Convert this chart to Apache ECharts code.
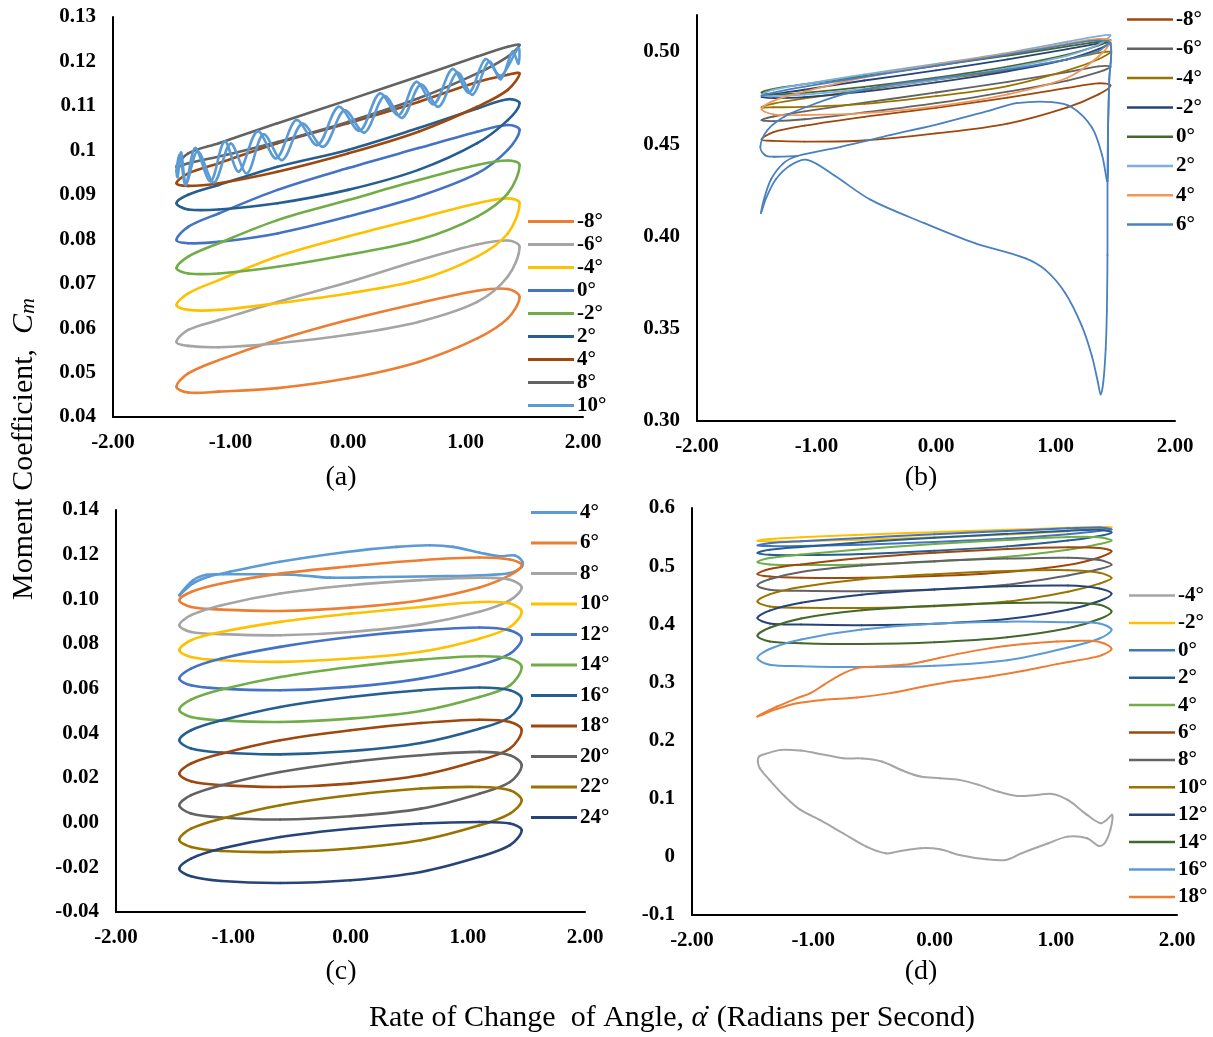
<!DOCTYPE html>
<html>
<head>
<meta charset="utf-8">
<script src="https://cdn.jsdelivr.net/npm/echarts@6.0.0/dist/echarts.min.js"></script>
<style>
html, body { margin: 0; padding: 0; background: #fff; }
#chart { width: 1213px; height: 1037px; }
</style>
</head>
<body>
<div id="chart"></div>
<script>
const XK = [-1.46, -1.36, -1.1, -0.6, 0, 0.6, 1.1, 1.36, 1.46];
const xTickLabels = ['-2.00', '-1.00', '0.00', '1.00', '2.00'];

// ---- (a) ----
const namesA = ['-8°', '-6°', '-4°', '0°', '-2°', '2°', '4°', '8°', '10°'];
// upper branch: left tip, values at XK[1..7], right tip
const upperA = [
	[0.0468, 0.0498, 0.0528, 0.0573, 0.0618, 0.0656, 0.0684, 0.0688, 0.0670],
	[0.0569, 0.0596, 0.0618, 0.0659, 0.0703, 0.0752, 0.0788, 0.0797, 0.0783],
	[0.0652, 0.0678, 0.0708, 0.0761, 0.0806, 0.0847, 0.0881, 0.0892, 0.0881],
	[0.0798, 0.0828, 0.0858, 0.0911, 0.0960, 0.1005, 0.1042, 0.1057, 0.1046],
	[0.0735, 0.0761, 0.0791, 0.0843, 0.0888, 0.0933, 0.0967, 0.0977, 0.0967],
	[0.0881, 0.0900, 0.0922, 0.0963, 0.1001, 0.1050, 0.1094, 0.1115, 0.1106],
	[0.0926, 0.0948, 0.0971, 0.1016, 0.1061, 0.1109, 0.1154, 0.1170, 0.1173],
	[0.0963, 0.0993, 0.1016, 0.1061, 0.1113, 0.1166, 0.1211, 0.1233, 0.1237]
];
// lower branch: values at XK[1..7]
const lowerA = [
	[0.0455, 0.0457, 0.0465, 0.0487, 0.0524, 0.0577, 0.0622],
	[0.0560, 0.0557, 0.0566, 0.0585, 0.0614, 0.0659, 0.0716],
	[0.0641, 0.0641, 0.0656, 0.0678, 0.0708, 0.0761, 0.0813],
	[0.0791, 0.0794, 0.0813, 0.0851, 0.0896, 0.0948, 0.1001],
	[0.0723, 0.0723, 0.0738, 0.0765, 0.0798, 0.0851, 0.0903],
	[0.0867, 0.0867, 0.0881, 0.0911, 0.0956, 0.1016, 0.1068],
	[0.0920, 0.0926, 0.0952, 0.0993, 0.1042, 0.1098, 0.1136],
	[0.0971, 0.0986, 0.1019, 0.1064, 0.1117, 0.1173, 0.1211]
];
// 10°: wavy trace out to the right and back, the two passes nearly in phase
const wave10A = [
	[-1.45, 0.0940], [-1.42, 0.0995], [-1.38, 0.0925], [-1.30, 0.1005], [-1.17, 0.0930],
	[-1.05, 0.1020], [-0.93, 0.0952], [-0.77, 0.1043], [-0.61, 0.0982], [-0.44, 0.1068],
	[-0.26, 0.1012], [-0.08, 0.1098], [0.10, 0.1044], [0.27, 0.1128], [0.43, 0.1079],
	[0.58, 0.1154], [0.73, 0.1104], [0.89, 0.1183], [1.03, 0.1130], [1.17, 0.1205],
	[1.30, 0.1168], [1.45, 0.1230],
	[1.45, 0.1195], [1.40, 0.1222], [1.30, 0.1160], [1.20, 0.1200], [1.06, 0.1125],
	[0.93, 0.1175], [0.77, 0.1098], [0.62, 0.1148], [0.46, 0.1073], [0.31, 0.1122],
	[0.14, 0.1040], [-0.03, 0.1090], [-0.21, 0.1008], [-0.39, 0.1060], [-0.56, 0.0978],
	[-0.72, 0.1036], [-0.86, 0.0948], [-1.00, 0.1015], [-1.14, 0.0928], [-1.28, 0.0998],
	[-1.38, 0.0922], [-1.43, 0.0990], [-1.46, 0.0955], [-1.45, 0.0940]
];
const yTicksA = ['0.04', '0.05', '0.06', '0.07', '0.08', '0.09', '0.1', '0.11', '0.12', '0.13'];

// ---- (b) ----
const namesB = ['-8°', '-6°', '-4°', '-2°', '0°', '2°', '4°', '6°'];
const upperB = [
	[0.4525, 0.4565, 0.4600, 0.4648, 0.4697, 0.4752, 0.4805, 0.4830, 0.4818],
	[0.4630, 0.4650, 0.4678, 0.4725, 0.4780, 0.4838, 0.4890, 0.4922, 0.4920],
	[0.4700, 0.4720, 0.4748, 0.4793, 0.4848, 0.4900, 0.4960, 0.4995, 0.5000],
	[0.4755, 0.4770, 0.4795, 0.4845, 0.4900, 0.4960, 0.5015, 0.5045, 0.5050],
	[0.4780, 0.4800, 0.4825, 0.4870, 0.4925, 0.4980, 0.5030, 0.5055, 0.5065],
	[0.4765, 0.4795, 0.4825, 0.4878, 0.4935, 0.4995, 0.5055, 0.5085, 0.5090],
	[0.4690, 0.4735, 0.4785, 0.4862, 0.4930, 0.4990, 0.5045, 0.5070, 0.5060]
];
const lowerB = [
	[0.4518, 0.4514, 0.4520, 0.4558, 0.4612, 0.4700, 0.4770],
	[0.4625, 0.4635, 0.4672, 0.4722, 0.4785, 0.4845, 0.4890],
	[0.4700, 0.4702, 0.4718, 0.4760, 0.4815, 0.4900, 0.4960],
	[0.4750, 0.4755, 0.4785, 0.4835, 0.4895, 0.4960, 0.5015],
	[0.4770, 0.4778, 0.4810, 0.4860, 0.4920, 0.4985, 0.5035],
	[0.4760, 0.4768, 0.4800, 0.4850, 0.4912, 0.4980, 0.5040],
	[0.4662, 0.4658, 0.4668, 0.4705, 0.4770, 0.4860, 0.4975]
];
const curve6B = [
	[-1.46, 0.4762], [-1.36, 0.4780], [-1.1, 0.4812], [-0.6, 0.4865], [0, 0.4925],
	[0.6, 0.4985], [1.1, 0.5040], [1.36, 0.5062], [1.46, 0.5045],
	[1.45, 0.4850], [1.44, 0.4600], [1.435, 0.4300], [1.435, 0.3900], [1.430, 0.3600],
	[1.420, 0.3390], [1.400, 0.3210], [1.378, 0.3144], [1.355, 0.3210], [1.305, 0.3351],
	[1.221, 0.3514], [1.081, 0.3694], [0.913, 0.3820], [0.744, 0.3883], [0.324, 0.3964],
	[-0.097, 0.4072], [-0.545, 0.4198], [-0.85, 0.4330], [-1.077, 0.4415],
	[-1.22, 0.4385], [-1.34, 0.4310], [-1.42, 0.4210], [-1.464, 0.4127], [-1.44, 0.4200],
	[-1.38, 0.4310], [-1.28, 0.4395], [-1.16, 0.4436],
	[-0.797, 0.4486], [-0.377, 0.4550], [0.044, 0.4613], [0.464, 0.4685], [0.675, 0.4722],
	[0.969, 0.4728], [1.137, 0.4700], [1.305, 0.4590], [1.39, 0.4440], [1.435, 0.4300],
	[1.44, 0.4600], [1.45, 0.4850], [1.46, 0.5045],
	[1.36, 0.5005], [1.1, 0.4960], [0.6, 0.4905], [0, 0.4855], [-0.35, 0.4825], [-0.60, 0.4795],
	[-0.80, 0.4766], [-1.08, 0.4703], [-1.27, 0.4649], [-1.41, 0.4577], [-1.47, 0.4486],
	[-1.43, 0.4440], [-1.358, 0.4432], [-1.16, 0.4436]
];
const yTicksB = ['0.30', '0.35', '0.40', '0.45', '0.50'];

// ---- (c) ----
const namesC = ['4°', '6°', '8°', '10°', '12°', '14°', '16°', '18°', '20°', '22°', '24°'];
const curve4C = [
	[-1.46, 0.1018], [-1.343, 0.1071], [-1.201, 0.1103], [-1.030, 0.1123], [-0.603, 0.1168],
	[-0.035, 0.1212], [0.392, 0.1235], [0.677, 0.1242], [0.875, 0.1235], [1.103, 0.1209],
	[1.274, 0.1193], [1.402, 0.1196], [1.467, 0.1168], [1.46, 0.1145],
	[1.359, 0.1118], [1.103, 0.1108], [0.818, 0.1104], [0.250, 0.1100], [-0.177, 0.1097],
	[-0.433, 0.1108], [-0.746, 0.1112], [-1.087, 0.1112], [-1.229, 0.1110], [-1.343, 0.1085],
	[-1.46, 0.1018]
];
const upperC = [
	[0.0996, 0.1033, 0.1071, 0.1115, 0.1148, 0.1175, 0.1187, 0.1178, 0.1153],
	[0.0884, 0.0929, 0.0974, 0.1026, 0.1063, 0.1086, 0.1097, 0.1088, 0.1053],
	[0.0772, 0.0817, 0.0854, 0.0899, 0.0936, 0.0966, 0.0988, 0.0981, 0.0944],
	[0.0645, 0.0690, 0.0735, 0.0787, 0.0831, 0.0861, 0.0874, 0.0861, 0.0824],
	[0.0506, 0.0551, 0.0596, 0.0652, 0.0697, 0.0730, 0.0745, 0.0735, 0.0697],
	[0.0369, 0.0414, 0.0458, 0.0518, 0.0563, 0.0593, 0.0605, 0.0593, 0.0555],
	[0.0220, 0.0265, 0.0309, 0.0369, 0.0414, 0.0446, 0.0461, 0.0451, 0.0414],
	[0.0078, 0.0123, 0.0168, 0.0227, 0.0272, 0.0302, 0.0317, 0.0302, 0.0257],
	[-0.0076, -0.0027, 0.0018, 0.0078, 0.0123, 0.0153, 0.0160, 0.0145, 0.0100],
	[-0.0206, -0.0161, -0.0116, -0.0064, -0.0027, -0.0004, 0.0003, -0.0004, -0.0034]
];
const lowerC = [
	[0.0966, 0.0954, 0.0948, 0.0963, 0.0996, 0.1053, 0.1108],
	[0.0854, 0.0844, 0.0839, 0.0854, 0.0888, 0.0944, 0.0996],
	[0.0742, 0.0727, 0.0720, 0.0735, 0.0765, 0.0824, 0.0876],
	[0.0615, 0.0600, 0.0593, 0.0608, 0.0645, 0.0705, 0.0757],
	[0.0473, 0.0458, 0.0451, 0.0466, 0.0500, 0.0563, 0.0615],
	[0.0332, 0.0314, 0.0306, 0.0321, 0.0357, 0.0421, 0.0473],
	[0.0185, 0.0168, 0.0160, 0.0175, 0.0212, 0.0279, 0.0332],
	[0.0041, 0.0023, 0.0014, 0.0029, 0.0063, 0.0130, 0.0182],
	[-0.0109, -0.0127, -0.0131, -0.0116, -0.0079, -0.0012, 0.0041],
	[-0.0240, -0.0261, -0.0270, -0.0258, -0.0221, -0.0153, -0.0101]
];
const yTicksC = ['-0.04', '-0.02', '0.00', '0.02', '0.04', '0.06', '0.08', '0.10', '0.12', '0.14'];

// ---- (d) ----
const namesD = ['-4°', '-2°', '0°', '2°', '4°', '6°', '8°', '10°', '12°', '14°', '16°', '18°'];
const curveNeg4D = [
	[-1.447, 0.1725], [-1.393, 0.1771], [-1.265, 0.1840], [-1.105, 0.1828], [-0.978, 0.1783],
	[-0.754, 0.1697], [-0.594, 0.1691], [-0.435, 0.1639], [-0.243, 0.1467], [-0.115, 0.1381],
	[0.045, 0.1352], [0.204, 0.1324], [0.364, 0.1238], [0.524, 0.1123], [0.684, 0.1048],
	[0.843, 0.1065], [0.971, 0.1083], [1.099, 0.0979], [1.259, 0.0721], [1.371, 0.0578],
	[1.419, 0.0635], [1.466, 0.0721], [1.450, 0.0463], [1.403, 0.0234], [1.355, 0.0188],
	[1.259, 0.0320], [1.099, 0.0348], [0.939, 0.0234], [0.716, 0.0061], [0.588, -0.0053],
	[0.428, -0.0042], [0.204, 0.0033], [0.045, 0.0130], [-0.115, 0.0148], [-0.307, 0.0090],
	[-0.403, 0.0061], [-0.562, 0.0176], [-0.754, 0.0406], [-0.946, 0.0635], [-1.105, 0.0807],
	[-1.233, 0.1037], [-1.361, 0.1324], [-1.441, 0.1524], [-1.457, 0.1639], [-1.447, 0.1725]
];
const upperD = [
	[0.5437, 0.5465, 0.5495, 0.5540, 0.5585, 0.5625, 0.5660, 0.5675, 0.5665],
	[0.5357, 0.5395, 0.5430, 0.5485, 0.5550, 0.5605, 0.5650, 0.5665, 0.5630],
	[0.5225, 0.5280, 0.5330, 0.5410, 0.5490, 0.5555, 0.5610, 0.5625, 0.5580],
	[0.5070, 0.5140, 0.5200, 0.5290, 0.5380, 0.5450, 0.5500, 0.5495, 0.5440],
	[0.4864, 0.4950, 0.5030, 0.5140, 0.5230, 0.5295, 0.5325, 0.5310, 0.5254],
	[0.4669, 0.4775, 0.4900, 0.5010, 0.5085, 0.5130, 0.5145, 0.5105, 0.5024],
	[0.4393, 0.4515, 0.4640, 0.4775, 0.4860, 0.4915, 0.4930, 0.4885, 0.4795],
	[0.4106, 0.4235, 0.4370, 0.4510, 0.4600, 0.4655, 0.4665, 0.4615, 0.4525],
	[0.3802, 0.3940, 0.4100, 0.4240, 0.4320, 0.4365, 0.4372, 0.4335, 0.4221],
	[0.3418, 0.3575, 0.3740, 0.3910, 0.4010, 0.4045, 0.4035, 0.4015, 0.3905]
];
const lowerD = [
	[0.5425, 0.5430, 0.5455, 0.5495, 0.5545, 0.5600, 0.5645],
	[0.5345, 0.5348, 0.5370, 0.5415, 0.5475, 0.5550, 0.5605],
	[0.5195, 0.5190, 0.5210, 0.5265, 0.5340, 0.5440, 0.5520],
	[0.5030, 0.5020, 0.5030, 0.5080, 0.5160, 0.5280, 0.5380],
	[0.4820, 0.4800, 0.4800, 0.4830, 0.4900, 0.5020, 0.5150],
	[0.4595, 0.4575, 0.4570, 0.4600, 0.4680, 0.4840, 0.4950],
	[0.4307, 0.4285, 0.4280, 0.4310, 0.4390, 0.4560, 0.4700],
	[0.4015, 0.3995, 0.3985, 0.4010, 0.4090, 0.4250, 0.4400],
	[0.3705, 0.3675, 0.3660, 0.3690, 0.3775, 0.3930, 0.4090],
	[0.3305, 0.3280, 0.3265, 0.3285, 0.3380, 0.3600, 0.3755]
];
const curve18D = [
	[-1.462, 0.2414], [-1.297, 0.2586], [-1.133, 0.2729], [-1.023, 0.2815], [-0.913, 0.2959],
	[-0.776, 0.3131], [-0.638, 0.3246], [-0.474, 0.3274], [-0.254, 0.3303], [-0.090, 0.3361],
	[0.185, 0.3487], [0.460, 0.3590], [0.734, 0.3659], [1.009, 0.3705], [1.283, 0.3716],
	[1.40, 0.3670], [1.46, 0.3573], [1.38, 0.3470], [1.283, 0.3418], [1.009, 0.3315],
	[0.734, 0.3200], [0.460, 0.3102], [0.185, 0.3028], [-0.090, 0.2930], [-0.364, 0.2816],
	[-0.638, 0.2741], [-0.913, 0.2701], [-1.133, 0.2643], [-1.297, 0.2546], [-1.462, 0.2414]
];
const yTicksD = ['-0.1', '0', '0.1', '0.2', '0.3', '0.4', '0.5', '0.6'];

// closed loop: start mid upper branch, round the right tip, back along the lower branch
function loopPoints(up, lo) {
	const pts = [];
	for (let i = 4; i <= 8; i++) pts.push([XK[i], up[i]]);
	for (let j = 6; j >= 0; j--) pts.push([XK[j + 1], lo[j]]);
	for (let i = 0; i <= 4; i++) pts.push([XK[i], up[i]]);
	return pts;
}

const serif = "'Liberation Serif', 'Times New Roman', serif";

const panels = [
	{
		key: 'a', names: namesA,
		data: [...upperA.map((u, i) => loopPoints(u, lowerA[i])), wave10A],
		colors: ['#ED7D31', '#A5A5A5', '#FFC000', '#4472C4', '#70AD47', '#255E91', '#9E480E', '#636363', '#5B9BD5'],
		grid: { left: 113, top: 17, width: 470, height: 400 },
		yMin: 0.04, yMax: 0.13, yStep: 0.01, yTicks: yTicksA,
		lineWidth: 2.6, iconHeight: 3,
		legend: { left: 528, top: 211, itemGap: 2 },
		label: '(a)', labelPos: [341, 478]
	},
	{
		key: 'b', names: namesB,
		data: [...upperB.map((u, i) => loopPoints(u, lowerB[i])), curve6B],
		colors: ['#9E480E', '#636363', '#997300', '#264478', '#43682B', '#7CAFDD', '#F1975A', '#4A80C0'],
		grid: { left: 697, top: 15, width: 478, height: 406 },
		yMin: 0.30, yMax: 0.52, yStep: 0.05, yTicks: yTicksB,
		lineWidth: 1.8, iconHeight: 2.5,
		legend: { left: 1127, top: 9, itemGap: 8.3 },
		label: '(b)', labelPos: [921, 478]
	},
	{
		key: 'c', names: namesC,
		data: [curve4C, ...upperC.map((u, i) => loopPoints(u, lowerC[i]))],
		colors: ['#5B9BD5', '#ED7D31', '#A5A5A5', '#FFC000', '#4472C4', '#70AD47', '#255E91', '#9E480E', '#636363', '#997300', '#264478'],
		grid: { left: 116, top: 510, width: 469, height: 402 },
		yMin: -0.04, yMax: 0.14, yStep: 0.02, yTicks: yTicksC,
		lineWidth: 2.6, iconHeight: 3,
		legend: { left: 531, top: 502, itemGap: 9.5 },
		label: '(c)', labelPos: [341, 972]
	},
	{
		key: 'd', names: namesD,
		data: [curveNeg4D, ...upperD.map((u, i) => loopPoints(u, lowerD[i])), curve18D],
		colors: ['#A5A5A5', '#FFC000', '#4472C4', '#255E91', '#70AD47', '#9E480E', '#636363', '#997300', '#264478', '#43682B', '#5B9BD5', '#ED7D31'],
		grid: { left: 692, top: 508, width: 485, height: 407 },
		yMin: -0.1, yMax: 0.6, yStep: 0.1, yTicks: yTicksD,
		lineWidth: 2, iconHeight: 2.5,
		legend: { left: 1129, top: 585, itemGap: 6.4 },
		label: '(d)', labelPos: [921, 972]
	}
];

function tickFormatter(min, step, labels) {
	return (v) => {
		const k = Math.round((v - min) / step);
		if (Math.abs(v - (min + k * step)) > step * 1e-3) return '';
		return labels[k] || '';
	};
}

// Each data point draws the curve piece to the next one (chord-length Catmull-Rom),
// so closed loops come out round at the tips and without a seam.
function curveRenderer(pts, color, width) {
	const last = pts[pts.length - 1];
	const closed = pts.length > 2 && last[0] === pts[0][0] && last[1] === pts[0][1];
	const n = closed ? pts.length - 1 : pts.length;
	const at = (k) => closed ? ((k % n) + n) % n : Math.max(0, Math.min(n - 1, k));
	return (params, api) => {
		const i = params.dataIndex;
		if (i >= n || (!closed && i >= n - 1)) return null;
		const [p0, p1, p2, p3] = [i - 1, i, i + 1, i + 2].map(k => api.coord(pts[at(k)]));
		const dist = (a, b) => Math.hypot(b[0] - a[0], b[1] - a[1]);
		const d01 = dist(p0, p1), d12 = dist(p1, p2), d23 = dist(p2, p3);
		const s1 = d12 / 3 / ((d01 + d12) || 1);
		const s2 = d12 / 3 / ((d12 + d23) || 1);
		return {
			type: 'bezierCurve',
			shape: {
				x1: p1[0], y1: p1[1], x2: p2[0], y2: p2[1],
				cpx1: p1[0] + (p2[0] - p0[0]) * s1, cpy1: p1[1] + (p2[1] - p0[1]) * s1,
				cpx2: p2[0] - (p3[0] - p1[0]) * s2, cpy2: p2[1] - (p3[1] - p1[1]) * s2
			},
			style: { stroke: color, lineWidth: width, fill: 'none', lineCap: 'round' },
			silent: true
		};
	};
}

const axisText = { fontFamily: serif, fontWeight: 'bold', fontSize: 21, color: '#000' };
const axisLine = { show: true, onZero: false, lineStyle: { color: '#000', width: 2 } };

const option = {
	animation: false,
	backgroundColor: '#fff',
	grid: panels.map(p => ({ ...p.grid, containLabel: false, outerBoundsMode: 'none' })),
	xAxis: panels.map((p, i) => ({
		type: 'value', gridIndex: i, min: -2, max: 2, interval: 1,
		axisLine, axisTick: { show: false }, splitLine: { show: false },
		axisLabel: { ...axisText, margin: 15, formatter: tickFormatter(-2, 1, xTickLabels) }
	})),
	yAxis: panels.map((p, i) => ({
		type: 'value', gridIndex: i, min: p.yMin, max: p.yMax, interval: p.yStep,
		axisLine, axisTick: { show: false }, splitLine: { show: false },
		axisLabel: { ...axisText, margin: 17, formatter: tickFormatter(p.yMin, p.yStep, p.yTicks) }
	})),
	legend: panels.map(p => ({
		orient: 'vertical', left: p.legend.left, top: p.legend.top, padding: 0,
		itemGap: p.legend.itemGap, itemWidth: 46, itemHeight: p.iconHeight,
		icon: 'rect',
		selectedMode: false,
		data: p.names.map(n => p.key + '|' + n),
		formatter: (name) => name.split('|')[1],
		textStyle: { ...axisText, lineHeight: 21, padding: [0, 0, 0, -2] }
	})),
	series: panels.flatMap((p, i) => p.names.map((n, k) => ({
		name: p.key + '|' + n,
		type: 'custom',
		coordinateSystem: 'cartesian2d',
		xAxisIndex: i, yAxisIndex: i,
		data: p.data[k],
		encode: { x: 0, y: 1 },
		silent: true,
		itemStyle: { color: p.colors[k] },
		renderItem: curveRenderer(p.data[k], p.colors[k], p.lineWidth)
	}))),
	graphic: [
		...panels.map(p => ({
			type: 'text', x: p.labelPos[0], y: p.labelPos[1],
			style: { text: p.label, font: '28px ' + serif, fill: '#000', textAlign: 'center', textVerticalAlign: 'middle' }
		})),
		{
			type: 'text', x: 672, y: 1018,
			style: {
				text: '{n|Rate of Change  of Angle, }{a|\u03B1}{d|\u02D9}{n| (Radians per Second)}',
				textAlign: 'center', textVerticalAlign: 'middle',
				rich: {
					n: { fontFamily: serif, fontSize: 30, fill: '#000' },
					a: { fontFamily: serif, fontSize: 30, fontStyle: 'italic', fill: '#000' },
					d: { fontFamily: serif, fontSize: 30, fill: '#000', width: 0, align: 'right', padding: [0, 2, 0, 0] }
				}
			}
		},
		{
			type: 'text', x: 24, y: 449, rotation: Math.PI / 2,
			style: {
				text: '{n|Moment Coefficient,  }{c|C}{s|m}',
				textAlign: 'center', textVerticalAlign: 'middle',
				rich: {
					n: { fontFamily: serif, fontSize: 30, fill: '#000' },
					c: { fontFamily: serif, fontSize: 30, fontStyle: 'italic', fill: '#000' },
					s: { fontFamily: serif, fontSize: 22, fontStyle: 'italic', fill: '#000', verticalAlign: 'bottom' }
				}
			}
		}
	]
};

const chart = echarts.init(document.getElementById('chart'), null, { renderer: 'canvas' });
chart.setOption(option);
</script>
</body>
</html>
